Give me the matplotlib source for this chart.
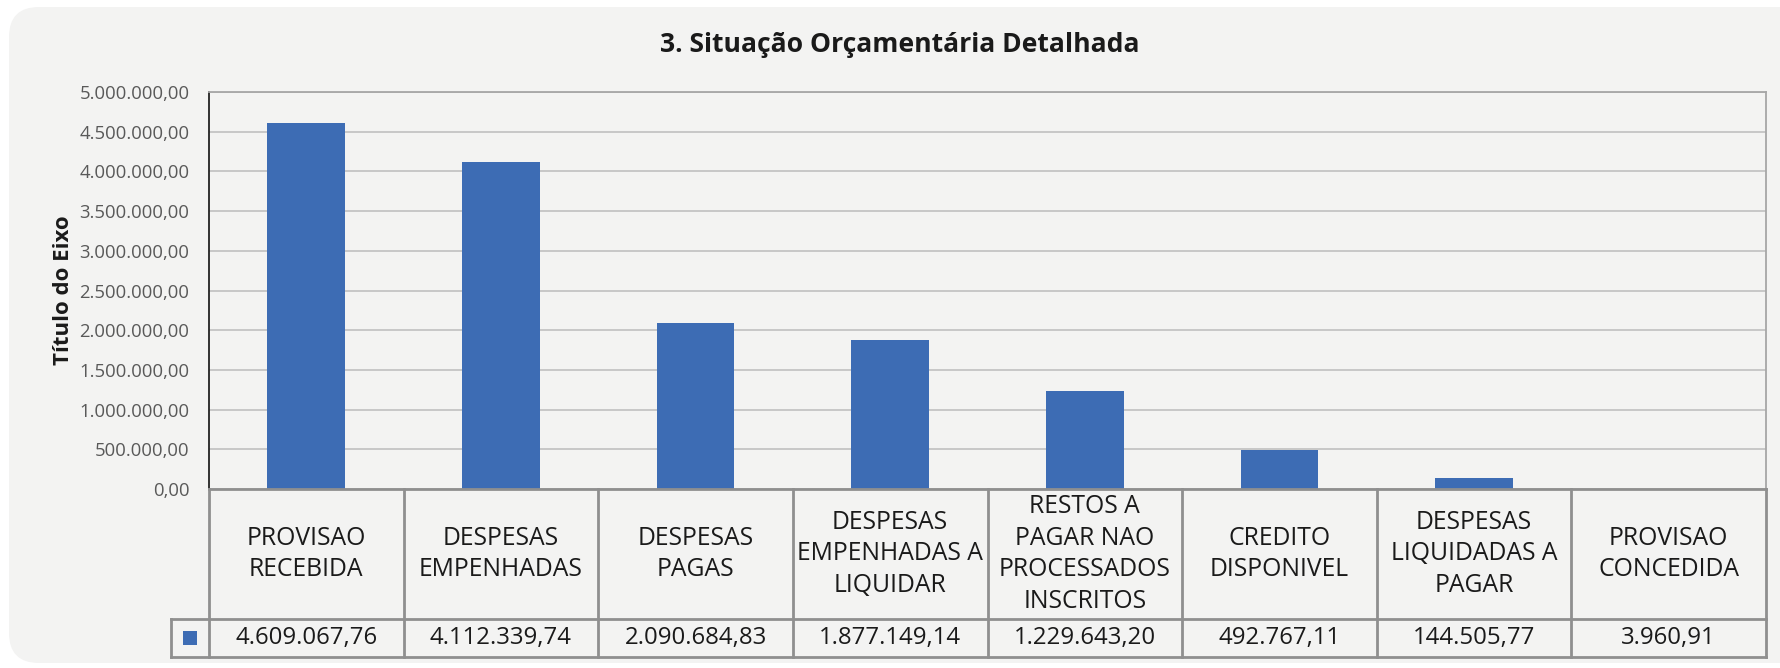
"""Situação orçamentária detalhada: colunas com tabela de dados embaixo (estilo Excel)."""
import matplotlib
matplotlib.use('Agg')
import matplotlib.pyplot as plt
from matplotlib.patches import FancyBboxPatch, Rectangle
from matplotlib.ticker import FuncFormatter, MultipleLocator

FONT = ['Open Sans', 'DejaVu Sans']

categorias = [
    'PROVISAO\nRECEBIDA',
    'DESPESAS\nEMPENHADAS',
    'DESPESAS\nPAGAS',
    'DESPESAS\nEMPENHADAS A\nLIQUIDAR',
    'RESTOS A\nPAGAR NAO\nPROCESSADOS\nINSCRITOS',
    'CREDITO\nDISPONIVEL',
    'DESPESAS\nLIQUIDADAS A\nPAGAR',
    'PROVISAO\nCONCEDIDA',
]
valores = [4609067.76, 4112339.74, 2090684.83, 1877149.14,
           1229643.20, 492767.11, 144505.77, 3960.91]

titulo = '3. Situação Orçamentária Detalhada'
titulo_eixo = 'Título do Eixo'

BAR = '#3d6cb4'
BG = '#f3f3f2'
GRID = '#c4c4c4'
TABLE_LINE = '#8f8f8f'

W, H = 1780, 668


def br(v, pos=None):
    s = f'{v:,.2f}'
    return s.replace(',', '#').replace('.', ',').replace('#', '.')


def fig_rect(x0, y0, x1, y1):
    # caixa em pixels (origem no topo) -> fração da figura
    return [x0 / W, 1 - y1 / H, (x1 - x0) / W, (y1 - y0) / H]


fig = plt.figure(figsize=(W / 100, H / 100), dpi=100)
fig.patch.set_facecolor('white')

# fundo arredondado
bg = fig.add_axes([0, 0, 1, 1])
bg.set_xlim(0, W)
bg.set_ylim(H, 0)
bg.axis('off')
bg.add_patch(FancyBboxPatch((9, 7), W + 40, 663 - 7, boxstyle='round,pad=0,rounding_size=30',
                            facecolor=BG, edgecolor='none'))

x_left, x_right, y_top, y_zero, y_bot = 209, 1766, 92, 489, 657
leg_w = 38

ax = fig.add_axes(fig_rect(x_left, y_top, x_right, y_zero))
ax.set_facecolor(BG)
x = list(range(len(categorias)))
ax.bar(x, valores, width=0.40, color=BAR, zorder=3)
ax.set_xlim(-0.5, len(categorias) - 0.5)
ax.set_ylim(0, 5000000)
ax.yaxis.set_major_locator(MultipleLocator(500000))
ax.yaxis.set_major_formatter(FuncFormatter(br))
ax.grid(axis='y', color=GRID, linewidth=1.3, zorder=0)
ax.set_xticks([])
ax.tick_params(axis='y', length=0, pad=14, labelsize=13.3, labelcolor='#595959')
for lab in ax.get_yticklabels():
    lab.set_family(FONT)
for side in ('top', 'right'):
    ax.spines[side].set_color('#a6a6a6')
    ax.spines[side].set_linewidth(1.3)
ax.spines['bottom'].set_visible(False)
ax.spines['left'].set_color('#222222')
ax.spines['left'].set_linewidth(1.3)

ax.set_ylabel(titulo_eixo, fontsize=16, fontweight='bold', family=FONT, color='#1a1a1a', labelpad=4)
fig.text(900 / W, 1 - 45 / H, titulo, ha='center', va='center',
         fontsize=19.1, fontweight='bold', family=FONT, color='#1a1a1a')

# tabela de dados
tb = fig.add_axes(fig_rect(x_left - leg_w, y_zero, x_right, y_bot))
tb.set_facecolor('none')
tb.axis('off')
unit = (x_right - x_left) / len(categorias)
x0 = -0.5 - leg_w / unit
x1 = len(categorias) - 0.5
tb.set_xlim(x0, x1)
tb.set_ylim(0, y_bot - y_zero)
row_h = 38
top = y_bot - y_zero
lw = 2
tb.plot([-0.5, x1], [top, top], color=TABLE_LINE, lw=lw, clip_on=False)
tb.plot([x0, x1], [row_h, row_h], color=TABLE_LINE, lw=lw, clip_on=False)
tb.plot([x0, x1], [0, 0], color=TABLE_LINE, lw=lw, clip_on=False)
tb.plot([x0, x0], [0, row_h], color=TABLE_LINE, lw=lw, clip_on=False)
for i in range(len(categorias) + 1):
    tb.plot([i - 0.5, i - 0.5], [0, top], color=TABLE_LINE, lw=lw, clip_on=False)
for i, (c, v) in enumerate(zip(categorias, valores)):
    tb.text(i, (top + row_h) / 2, c, ha='center', va='center', fontsize=17.8,
            family=FONT, color='#1a1a1a', linespacing=1.36)
    tb.text(i, row_h / 2, br(v), ha='center', va='center', fontsize=17.3,
            family=FONT, color='#1a1a1a')
sq = 14 / unit
tb.add_patch(Rectangle(((x0 - 0.5) / 2 - sq / 2, row_h / 2 - 7), sq, 14,
                       facecolor=BAR, edgecolor='none'))

fig.savefig('out.png', dpi=100, facecolor='white')
